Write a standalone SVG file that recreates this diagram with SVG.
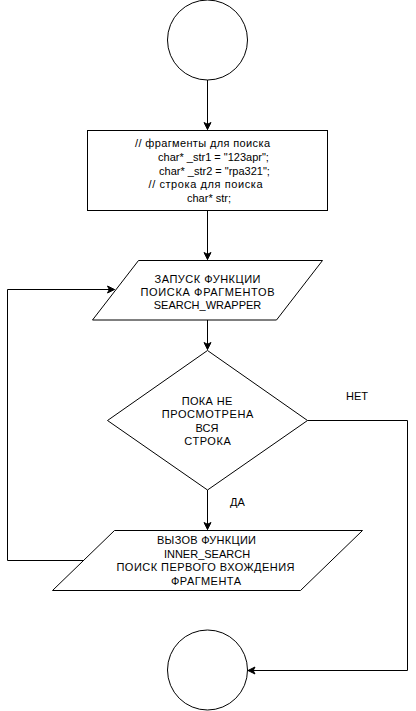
<svg xmlns="http://www.w3.org/2000/svg" width="416" height="711" viewBox="0 0 416 711">
<defs>
<style>
.shape{fill:#fff;stroke:#000;stroke-width:1}
.edge{fill:none;stroke:#000;stroke-width:1}
text{font-family:"Liberation Sans",Arial,sans-serif;font-size:11px;fill:#000;text-anchor:middle;dominant-baseline:central}
</style>
<marker id="arr" markerUnits="userSpaceOnUse" markerWidth="10" markerHeight="10" viewBox="-8 -5 10 10" refX="0" refY="0" orient="auto">
<path d="M0,0 L-7,-3.5 L-5.2,0 L-7,3.5 Z" fill="#000" stroke="#000" stroke-width="1"/>
</marker>
</defs>
<rect width="416" height="711" fill="#fff"/>
<g id="connectors">
<path class="edge" d="M207.5,80 L207.5,129.5" marker-end="url(#arr)"/>
<path class="edge" d="M207.5,210.5 L207.5,259.5" marker-end="url(#arr)"/>
<path class="edge" d="M207.5,320 L207.5,349.5" marker-end="url(#arr)"/>
<path class="edge" d="M207.5,490 L207.5,529.5" marker-end="url(#arr)"/>
<path class="edge" d="M84,560.5 L7.5,560.5 L7.5,289.5 L114.5,289.5" marker-end="url(#arr)"/>
<path class="edge" d="M307.5,420.5 L407.5,420.5 L407.5,670.5 L248,670.5" marker-end="url(#arr)"/>
<text x="357" y="395.5">НЕТ</text>
<text x="237.5" y="502">ДА</text>
</g>
<g id="start">
<circle class="shape" cx="207.5" cy="40" r="40"/>
</g>
<g id="declarations">
<rect class="shape" x="87.5" y="130.5" width="240" height="80"/>
<text x="202.5" y="143" textLength="135" lengthAdjust="spacing">// фрагменты для поиска</text>
<text x="213.5" y="157">char* _str1 = "123apr";</text>
<text x="214.5" y="170.5">char* _str2 = "rpa321";</text>
<text x="205.5" y="184" textLength="114" lengthAdjust="spacing">//  строка для поиска</text>
<text x="209" y="197.5">char* str;</text>
</g>
<g id="search_wrapper">
<path class="shape" d="M138.5,260.5 L322.5,260.5 L276.5,320 L92.5,320 Z"/>
<text x="207.5" y="279" textLength="106" lengthAdjust="spacing">ЗАПУСК ФУНКЦИИ</text>
<text x="207.5" y="292" textLength="134" lengthAdjust="spacing">ПОИСКА ФРАГМЕНТОВ</text>
<text x="207.5" y="305">SEARCH_WRAPPER</text>
</g>
<g id="condition">
<path class="shape" d="M207.5,350.5 L307.5,420.5 L207.5,490 L107.5,420.5 Z"/>
<text x="207" y="401" textLength="50.5" lengthAdjust="spacing">ПОКА НЕ</text>
<text x="207.5" y="414" textLength="91.5" lengthAdjust="spacing">ПРОСМОТРЕНА</text>
<text x="207" y="427.5">ВСЯ</text>
<text x="207.5" y="441" textLength="46.5" lengthAdjust="spacing">СТРОКА</text>
</g>
<g id="inner_search">
<path class="shape" d="M114.5,530.5 L362.5,530.5 L300.5,590.5 L52.5,590.5 Z"/>
<text x="206.5" y="539.5" textLength="99" lengthAdjust="spacing">ВЫЗОВ ФУНКЦИИ</text>
<text x="207" y="553.5">INNER_SEARCH</text>
<text x="205.5" y="567" textLength="178" lengthAdjust="spacing">ПОИСК ПЕРВОГО ВХОЖДЕНИЯ</text>
<text x="206" y="581" textLength="70" lengthAdjust="spacing">ФРАГМЕНТА</text>
</g>
<g id="end">
<circle class="shape" cx="207.5" cy="670" r="40"/>
</g>
</svg>
